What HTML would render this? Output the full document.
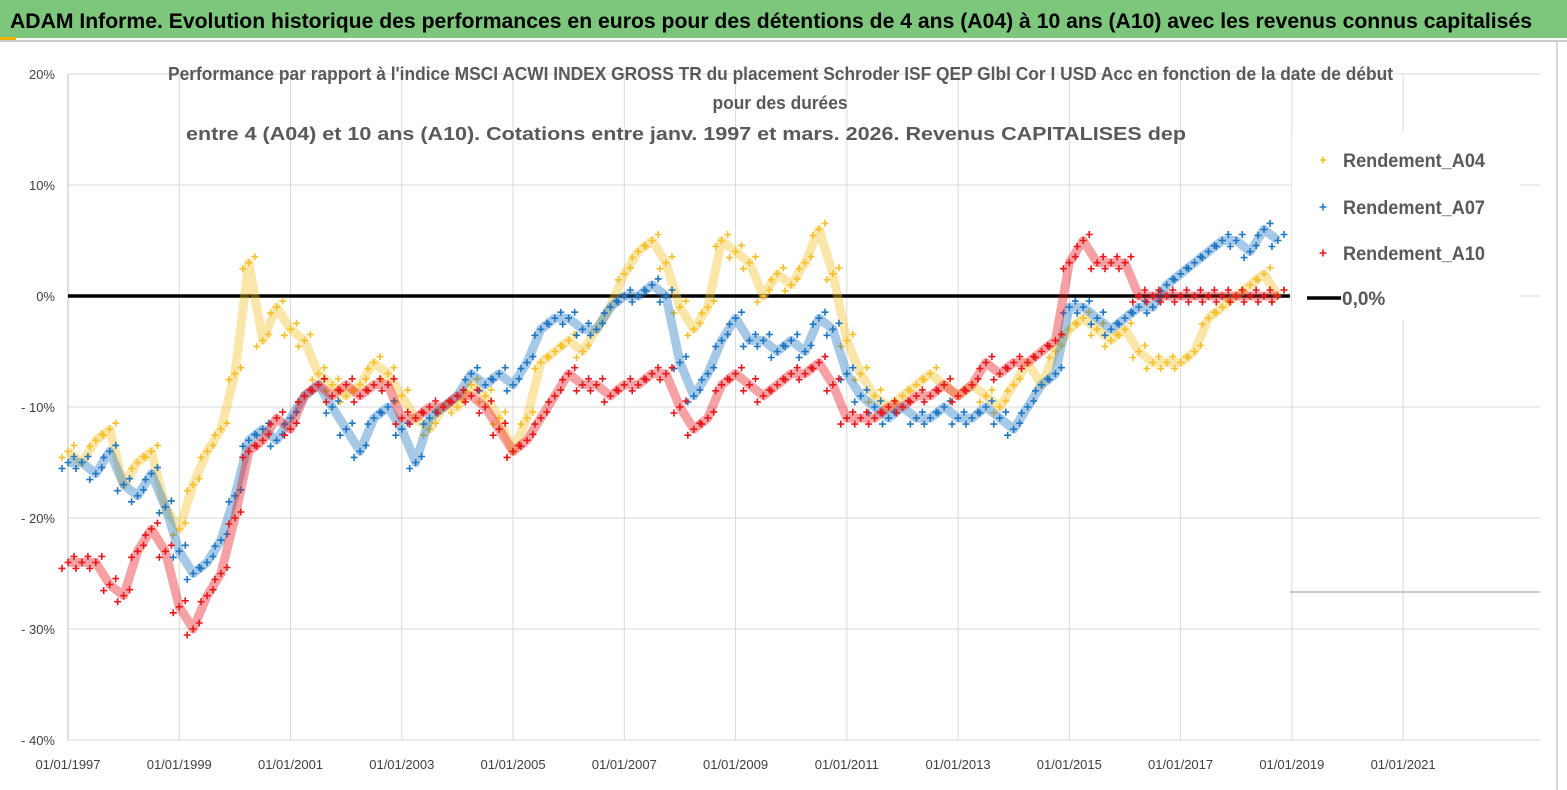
<!DOCTYPE html>
<html><head><meta charset="utf-8"><style>
body{margin:0;background:#fff;}
svg{display:block;font-family:"Liberation Sans",sans-serif;}
</style></head><body>
<svg id="chart" width="1567" height="790" viewBox="0 0 1567 790" xmlns="http://www.w3.org/2000/svg">
<rect x="0" y="0" width="1567" height="790" fill="#fff"/>
<rect x="0" y="0" width="1567" height="38" fill="#7dc77c"/>
<rect x="0" y="37" width="16" height="3" fill="#f0b400"/>
<line x1="0" y1="41" x2="1567" y2="41" stroke="#ccc" stroke-width="2"/>
<text x="10" y="28" font-size="21" font-weight="bold" fill="#000" textLength="1522" lengthAdjust="spacingAndGlyphs">ADAM Informe. Evolution historique des performances en euros pour des détentions de 4 ans (A04) à 10 ans (A10) avec les revenus connus capitalisés</text>
<line x1="1557" y1="41" x2="1557" y2="790" stroke="#ccc" stroke-width="1.5"/>
<g id="grid"></g>
<g id="series"></g>
<rect x="1292" y="132" width="228" height="188" fill="#fff"/>
<g id="legend"></g>
<g font-weight="bold" fill="#595959" font-size="18">
<text x="168" y="80" textLength="1225" lengthAdjust="spacingAndGlyphs">Performance par rapport à l'indice MSCI ACWI INDEX GROSS TR  du placement Schroder ISF QEP Glbl Cor I USD Acc en fonction de la date de début</text>
<text x="780" y="109" text-anchor="middle" textLength="135" lengthAdjust="spacingAndGlyphs">pour des durées</text>
<text x="186" y="140" textLength="1000" lengthAdjust="spacingAndGlyphs">entre 4 (A04) et 10 ans (A10). Cotations entre janv. 1997 et mars. 2026. Revenus CAPITALISES dep</text>
</g>
</svg>
<script>
const yTicks=[20,10,0,-10,-20,-30,-40];
const yTickLabels=["20%","10%","0%","- 10%","- 20%","- 30%","- 40%"];
const xTicks=[1997,1999,2001,2003,2005,2007,2009,2011,2013,2015,2017,2019,2021];
const xTickLabels=["01/01/1997","01/01/1999","01/01/2001","01/01/2003","01/01/2005","01/01/2007","01/01/2009","01/01/2011","01/01/2013","01/01/2015","01/01/2017","01/01/2019","01/01/2021"];
const dates=[1997,1997.25,1997.5,1997.75,1998,1998.25,1998.5,1998.75,1999,1999.25,1999.5,1999.75,2000,2000.25,2000.5,2000.75,2001,2001.25,2001.5,2001.75,2002,2002.25,2002.5,2002.75,2003,2003.25,2003.5,2003.75,2004,2004.25,2004.5,2004.75,2005,2005.25,2005.5,2005.75,2006,2006.25,2006.5,2006.75,2007,2007.25,2007.5,2007.75,2008,2008.25,2008.5,2008.75,2009,2009.25,2009.5,2009.75,2010,2010.25,2010.5,2010.75,2011,2011.25,2011.5,2011.75,2012,2012.25,2012.5,2012.75,2013,2013.25,2013.5,2013.75,2014,2014.25,2014.5,2014.75,2015,2015.25,2015.5,2015.75,2016,2016.25,2016.5,2016.75,2017,2017.25,2017.5,2017.75,2018,2018.25,2018.5,2018.75];
const a04=[-14,-15,-13,-12,-17,-15,-14,-19,-21,-17,-14,-12,-7,3,-4,-1,-3,-4,-7,-8,-9,-8,-6,-7,-9,-11,-12,-10,-10,-8,-9,-11,-14,-11,-6,-5,-4,-5,-3,-1,2,4,5,3,-1,-3,-1,5,4,3,0,2,1,3,6,2,-4,-7,-9,-10,-9,-8,-7,-8,-9,-8,-9,-10,-8,-6,-8,-5,-3,-2,-3,-4,-3,-5,-6,-6,-6,-5,-2,-1,0,1,2,0];
const a07=[-15,-15,-16,-14,-17,-18,-16,-19,-23,-25,-24,-22,-18,-13,-12,-13,-11,-9,-8,-10,-12,-14,-11,-10,-12,-15,-11,-10,-9,-7,-8,-7,-8,-6,-3,-2,-2,-3,-3,-1,0,0,1,0,-6,-9,-7,-4,-2,-4,-4,-5,-4,-5,-2,-3,-7,-9,-10,-11,-10,-11,-11,-10,-11,-11,-10,-11,-12,-10,-8,-7,-1,-1,-2,-3,-2,-1,-1,1,2,3,4,5,5,4,6,5];
const a10=[-24,-24,-24,-26,-27,-23,-21,-23,-28,-30,-27,-25,-20,-14,-13,-11,-12,-9,-8,-9,-8,-9,-8,-8,-11,-11,-10,-10,-9,-9,-10,-12,-14,-13,-11,-9,-7,-8,-8,-9,-8,-8,-7,-7,-10,-12,-11,-8,-7,-8,-9,-8,-7,-7,-6,-8,-11,-11,-11,-10,-10,-9,-9,-8,-9,-8,-6,-7,-6,-6,-5,-4,3,5,3,3,3,0,0,0,0,0,0,0,0,0,0,0];
const NS="http://www.w3.org/2000/svg";
const x0=68,pxYear=55.63,y0=296,pxPct=11.1;
const xs=d=>x0+(d-1997)*pxYear;
const ys=v=>y0-v*pxPct;
function mk(tag,attrs,parent){const e=document.createElementNS(NS,tag);for(const k in attrs)e.setAttribute(k,attrs[k]);parent.appendChild(e);return e;}
const grid=document.getElementById('grid');
yTicks.forEach((t,i)=>{
  const l=mk('line',{x1:x0,x2:1540,y1:ys(t),y2:ys(t),stroke:'#d9d9d9','stroke-width':1},grid);
  
  
  const tx=mk('text',{x:55,y:ys(t)+5,'text-anchor':'end','font-size':13,fill:'#404040'},grid);
  tx.textContent=yTickLabels[i];
  
  
});
xTicks.forEach((t,i)=>{
  const l=mk('line',{x1:xs(t),x2:xs(t),y1:74,y2:740,stroke:'#d9d9d9','stroke-width':1},grid);
  
  
  const tx=mk('text',{x:xs(t),y:769,'text-anchor':'middle','font-size':13,fill:'#404040'},grid);
  tx.textContent=xTickLabels[i];
  
  
});
mk('line',{x1:x0,x2:x0,y1:74,y2:740,stroke:'#bfbfbf','stroke-width':1},grid);
mk('line',{x1:1290,x2:1540,y1:592,y2:592,stroke:'#999','stroke-width':1},grid);
const sg=document.getElementById('series');
const zl=mk('line',{x1:x0,x2:1290,y1:ys(0),y2:ys(0),stroke:'#000','stroke-width':3.5},sg);


function plus(g,x,y,c){mk('path',{d:`M${x-3.5},${y}h7M${x},${y-3.5}v7`,stroke:c,'stroke-width':1.6,fill:'none'},g);}
function series(vals,color,name){
  const g=mk('g',{},sg);
  
  
  let pts=vals.map((v,i)=>xs(dates[i])+','+ys(v)).join(' ');
  mk('polyline',{points:pts,fill:'none',stroke:color,'stroke-width':9,'stroke-opacity':0.4,'stroke-linejoin':'round'},g);
  vals.forEach((v,i)=>{const x=xs(dates[i]),y=ys(v);plus(g,x,y,color);plus(g,x-6,y+6,color);plus(g,x+6,y-6,color);});
}
series(a04,'#f5c02a','series-a04');
series(a07,'#1f77c4','series-a07');
series(a10,'#e8171c','series-a10');
plus(sg,1513,ys(0),'#e8171c');
const lg=document.getElementById('legend');
const items=[['Rendement_A04','#f5c02a',160],['Rendement_A07','#1f77c4',207],['Rendement_A10','#e8171c',253]];
items.forEach(it=>{
  const g=mk('g',{},lg);
  
  
  plus(g,1323,it[2],it[1]);
  const t=mk('text',{x:1343,y:it[2]+7,'font-size':19,'font-weight':'bold',fill:'#595959',textLength:142,lengthAdjust:'spacingAndGlyphs'},g);
  t.textContent=it[0];
});
const g0=mk('g',{},lg);


mk('line',{x1:1307,x2:1341,y1:298,y2:298,stroke:'#000','stroke-width':3.5},g0);
const t0=mk('text',{x:1342,y:305,'font-size':19,'font-weight':'bold',fill:'#595959'},g0);
t0.textContent='0,0%';
</script>
</body></html>
